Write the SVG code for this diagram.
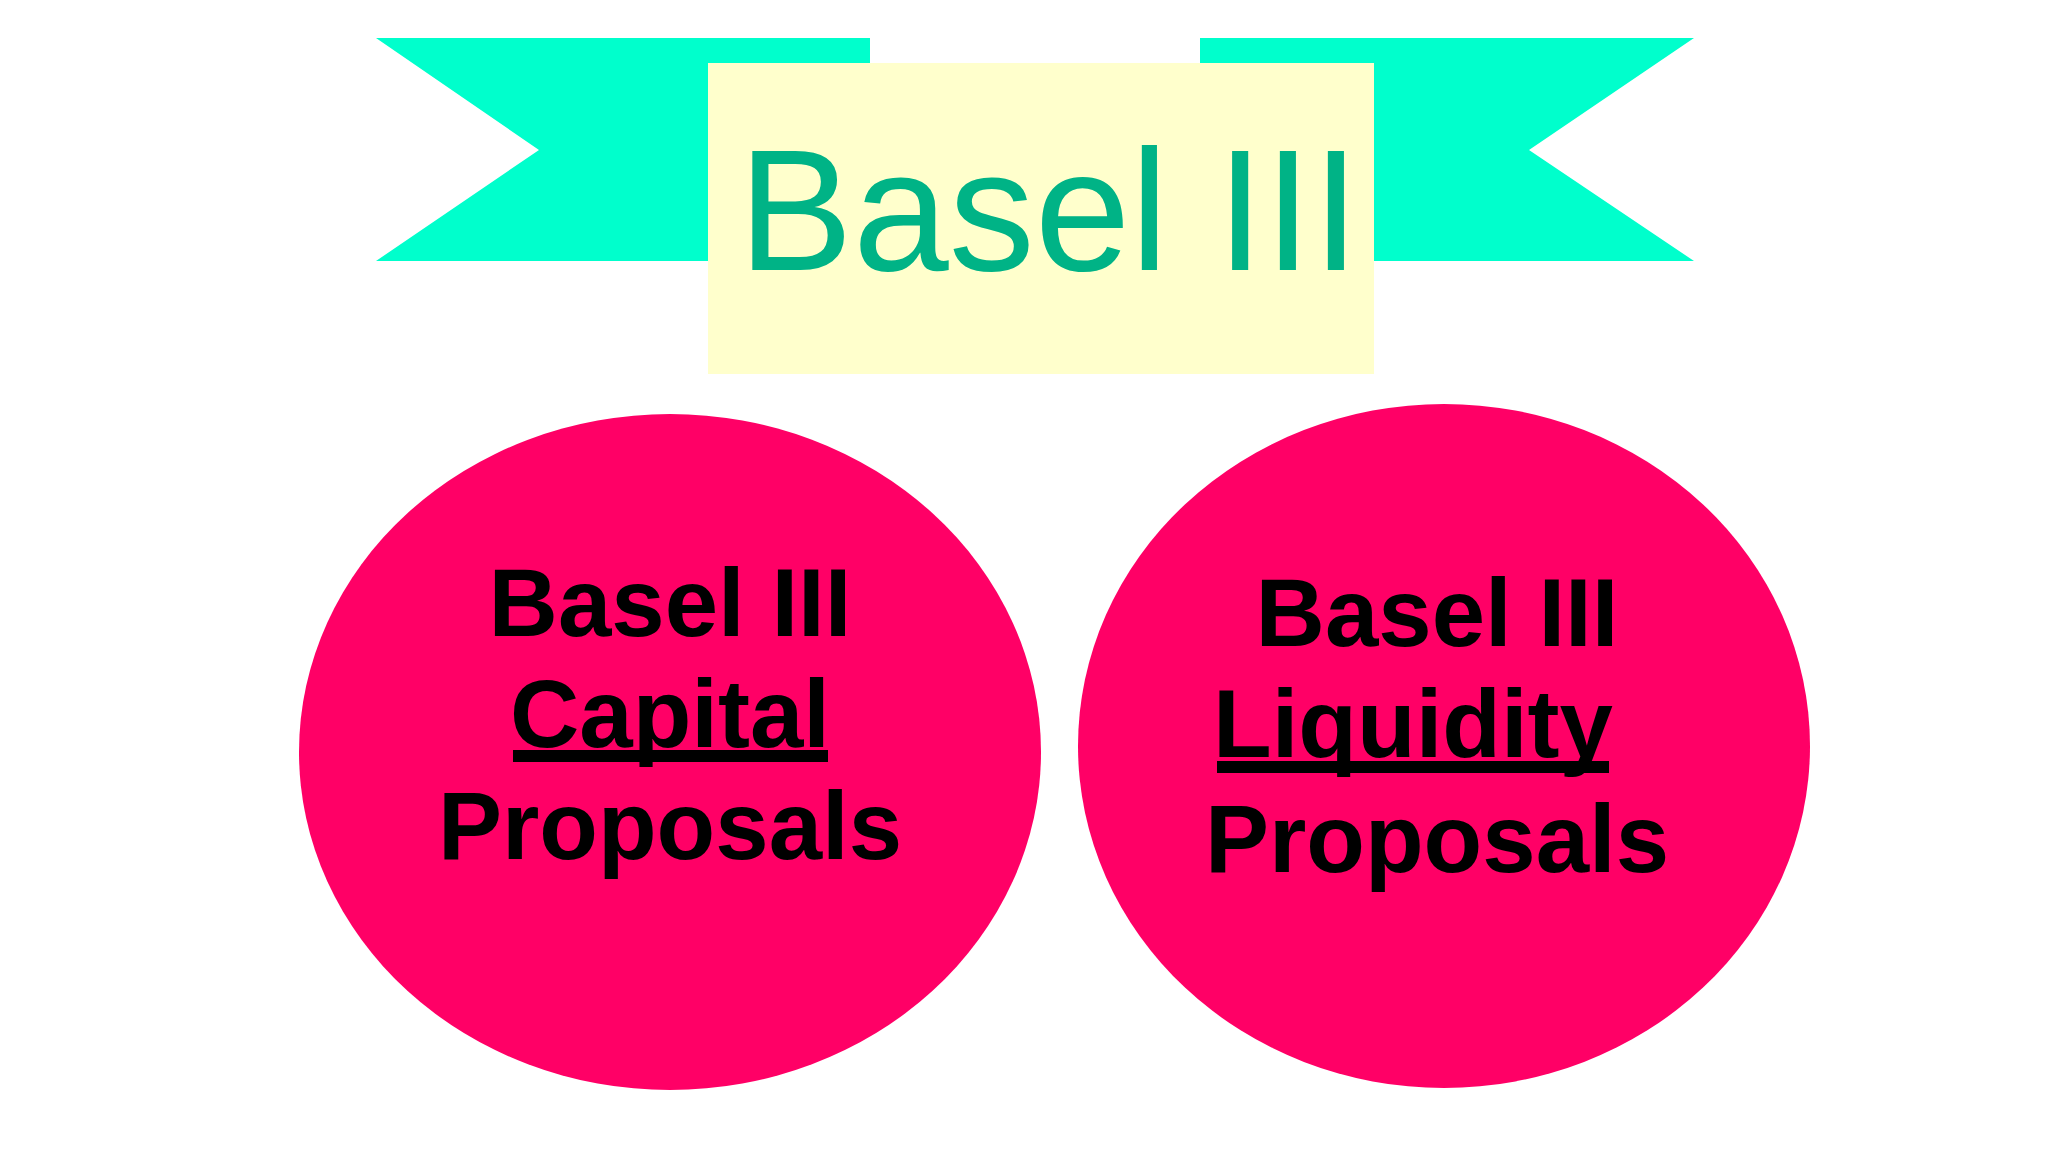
<svg xmlns="http://www.w3.org/2000/svg" width="2048" height="1152" viewBox="0 0 2048 1152">
<style>
.b{fill:#00FFCC}
.c{fill:#FF0066}
.t{font-family:"Liberation Sans",Arial,sans-serif;font-weight:bold;font-size:96px;fill:#000;text-anchor:middle}
</style>
<rect width="2048" height="1152" fill="#fff"/>
<g id="banner">
<polygon class="b" points="376,38 870,38 870,261 376,261 539,150"/>
<polygon class="b" points="1694,38 1200,38 1200,261 1694,261 1529,150"/>
<rect x="708" y="63" width="666" height="311" fill="#FFFFCC"/>
<text x="1049" y="270" font-family="Liberation Sans,Arial,sans-serif" font-size="172" fill="#00B386" text-anchor="middle">Basel III</text>
</g>
<g id="capital">
<ellipse class="c" cx="670" cy="752" rx="371" ry="338"/>
<text class="t" x="670" y="636">Basel III</text>
<text class="t" x="670" y="747">Capital</text>
<rect x="513" y="750" width="315" height="12" fill="#000"/>
<text class="t" x="670" y="859">Proposals</text>
</g>
<g id="liquidity">
<ellipse class="c" cx="1444" cy="746" rx="366" ry="342"/>
<text class="t" x="1437" y="646">Basel III</text>
<text class="t" x="1413" y="757">Liquidity</text>
<rect x="1217" y="761" width="392" height="12" fill="#000"/>
<text class="t" x="1437" y="872">Proposals</text>
</g>
<g id="connectors"/>
</svg>
